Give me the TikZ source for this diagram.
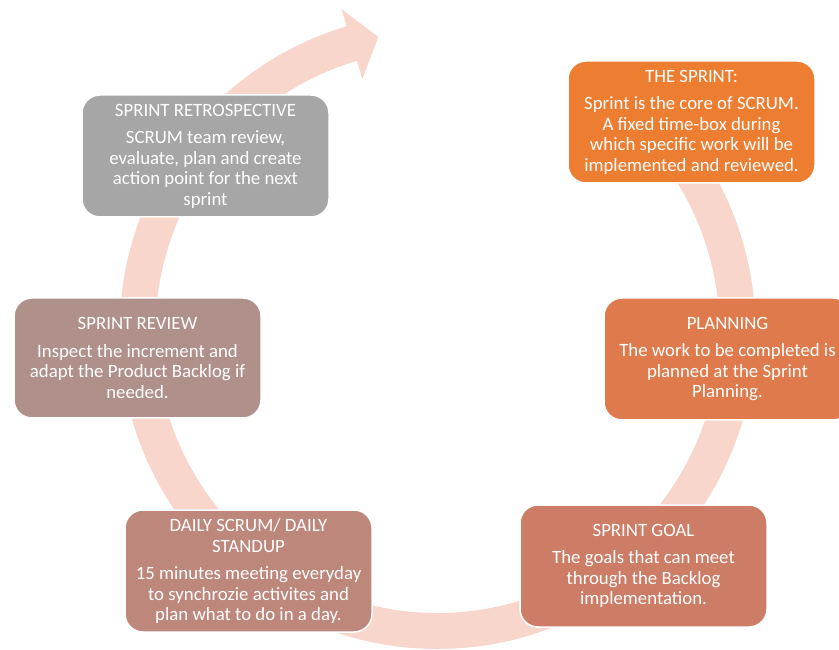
\documentclass[tikz,border=0pt]{standalone}
\usepackage{fontspec}
\setmainfont{Carlito}
\definecolor{ringc}{HTML}{F8D6CB}
\definecolor{csprint}{HTML}{ED7D31}
\definecolor{cplan}{HTML}{DE7A4B}
\definecolor{cgoal}{HTML}{CD7C66}
\definecolor{cdaily}{HTML}{BE877B}
\definecolor{creview}{HTML}{B0908B}
\definecolor{cretro}{HTML}{A6A6A6}
\begin{document}
\begin{tikzpicture}[x=1pt,y=1pt,
  stagebox/.style={draw=white, line width=1.5pt, rounded corners=18pt,
    minimum width=247pt, minimum height=122pt, inner sep=0pt,
    text=white, align=center, font=\fontsize{18.8}{20.5}\selectfont}]
\useasboundingbox (0,0) rectangle (839,649);
\begin{scope}[shift={(437.5,318)}]
\fill[ringc] (50:318) arc[start angle=50, end angle=-253.4, radius=318pt]
  -- (-253.4:336) -- (-258.6:300) -- (-253.4:263) -- (-253.4:282)
  arc[start angle=-253.4, end angle=50, radius=282pt] -- cycle;
\end{scope}
\node[stagebox, fill=csprint] (sprint) at (691.5,527)
  {THE SPRINT:\\[7pt] Sprint is the core of SCRUM.\\ A fixed time-box during\\ which specific work will be\\ implemented and reviewed.};
\node[stagebox, fill=cplan] (plan) at (727.5,290)
  {PLANNING\\[7pt] The work to be completed is\\ planned at the Sprint\\ Planning.};
\node[stagebox, fill=cgoal] (goal) at (643.5,83)
  {SPRINT GOAL\\[7pt] The goals that can meet\\ through the Backlog\\ implementation.};
\node[stagebox, fill=cdaily] (daily) at (248.5,78)
  {DAILY SCRUM/ DAILY\\ STANDUP\\[7pt] 15 minutes meeting everyday\\ to synchrozie activites and\\ plan what to do in a day.};
\node[stagebox, fill=creview, minimum height=120pt] (review) at (137.5,291)
  {SPRINT REVIEW\\[7pt] Inspect the increment and\\ adapt the Product Backlog if\\ needed.};
\node[stagebox, fill=cretro] (retro) at (205.5,493)
  {SPRINT RETROSPECTIVE\\[7pt] SCRUM team review,\\ evaluate, plan and create\\ action point for the next\\ sprint};
\end{tikzpicture}
\end{document}
